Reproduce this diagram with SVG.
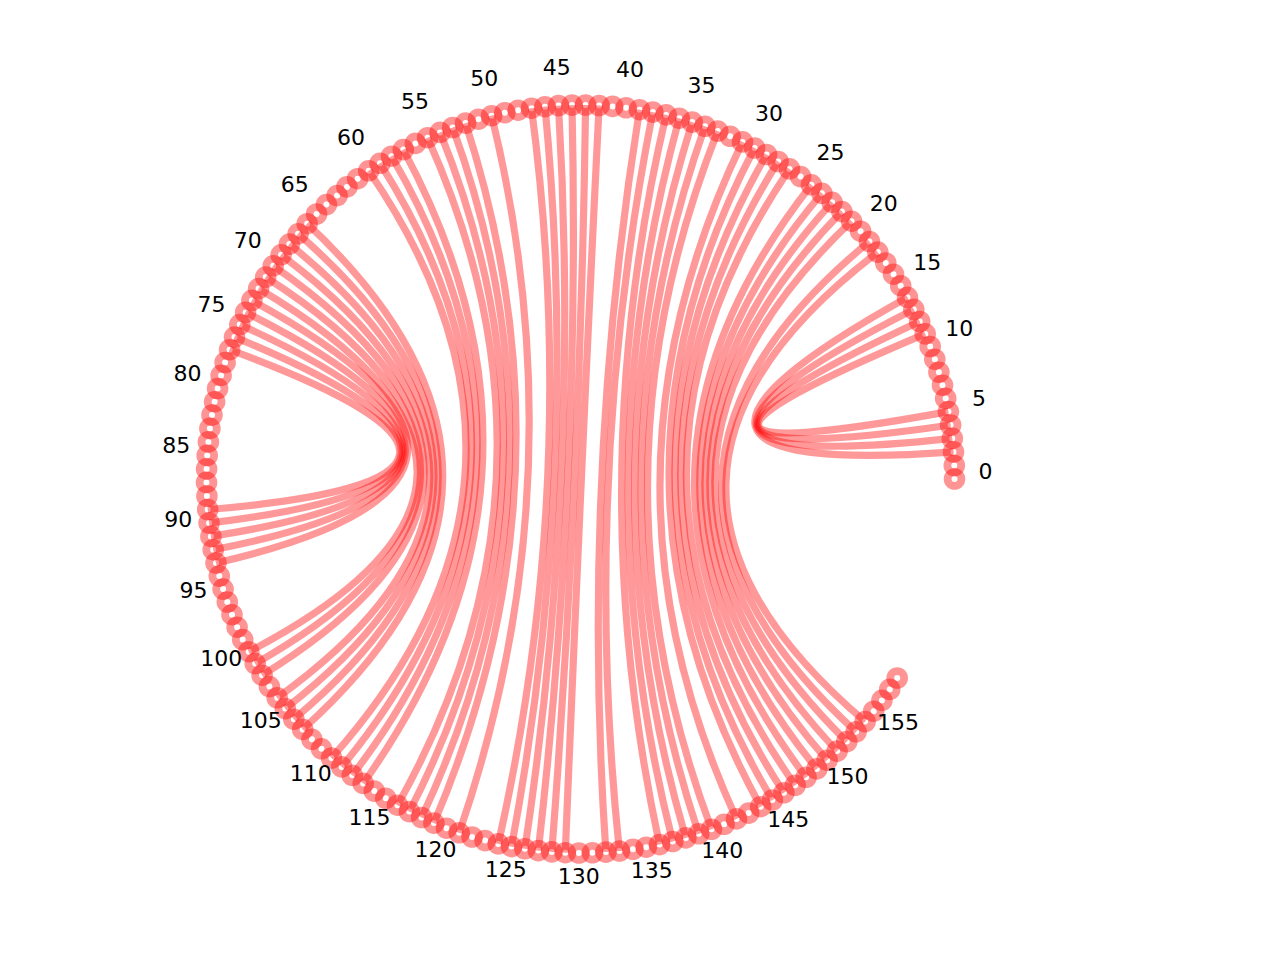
<svg xmlns="http://www.w3.org/2000/svg" width="1280" height="960" viewBox="0 0 1280 960">
<style>
.e{fill:none;stroke:#ff0000;stroke-opacity:0.4;stroke-width:7.2}
.n{fill:none;stroke:#ff0000;stroke-opacity:0.42;stroke-width:7.8}
.t{font-family:"DejaVu Sans",sans-serif;font-size:22px;text-anchor:middle;fill:#000}
</style>
<rect width="1280" height="960" fill="#fff"/>
<g id="connectors">
<path class="e" d="M953.5,451.9 Q580.5,479 907.5,297.4"/>
<path class="e" d="M952.3,438.4 Q580.5,479 913.8,309.4"/>
<path class="e" d="M950.6,425.0 Q580.5,479 919.7,321.5"/>
<path class="e" d="M948.4,411.6 Q580.5,479 925.2,333.9"/>
<path class="e" d="M639.5,109.7 Q580.5,479 605.9,852.1"/>
<path class="e" d="M652.8,112.1 Q580.5,479 619.4,851.0"/>
<path class="e" d="M666.1,114.9 Q580.5,479 659.5,844.6"/>
<path class="e" d="M679.2,118.2 Q580.5,479 672.7,841.5"/>
<path class="e" d="M692.2,122.1 Q580.5,479 685.8,837.9"/>
<path class="e" d="M705.0,126.3 Q580.5,479 698.7,833.8"/>
<path class="e" d="M717.7,131.1 Q580.5,479 711.5,829.3"/>
<path class="e" d="M742.5,141.9 Q580.5,479 736.5,818.9"/>
<path class="e" d="M754.6,148.0 Q580.5,479 760.7,806.7"/>
<path class="e" d="M766.5,154.5 Q580.5,479 772.4,800.0"/>
<path class="e" d="M778.1,161.5 Q580.5,479 783.9,792.8"/>
<path class="e" d="M789.5,168.9 Q580.5,479 795.2,785.3"/>
<path class="e" d="M811.4,184.8 Q580.5,479 806.1,777.3"/>
<path class="e" d="M821.9,193.3 Q580.5,479 816.8,768.9"/>
<path class="e" d="M832.1,202.3 Q580.5,479 827.1,760.2"/>
<path class="e" d="M841.9,211.6 Q580.5,479 837.1,751.1"/>
<path class="e" d="M851.5,221.2 Q580.5,479 846.8,741.6"/>
<path class="e" d="M869.4,241.5 Q580.5,479 856.1,731.8"/>
<path class="e" d="M877.8,252.1 Q580.5,479 865.1,721.6"/>
<path class="e" d="M599.1,105.5 Q580.5,479 565.3,852.7"/>
<path class="e" d="M585.6,105.0 Q580.5,479 551.8,851.9"/>
<path class="e" d="M572.0,105.1 Q580.5,479 538.3,850.6"/>
<path class="e" d="M558.5,105.6 Q580.5,479 524.9,848.8"/>
<path class="e" d="M545.0,106.7 Q580.5,479 511.5,846.6"/>
<path class="e" d="M531.5,108.2 Q580.5,479 498.3,843.9"/>
<path class="e" d="M491.6,115.7 Q580.5,479 459.2,832.8"/>
<path class="e" d="M465.6,123.1 Q580.5,479 433.9,823.1"/>
<path class="e" d="M452.7,127.5 Q580.5,479 421.6,817.5"/>
<path class="e" d="M440.1,132.4 Q580.5,479 409.4,811.6"/>
<path class="e" d="M427.6,137.7 Q580.5,479 397.5,805.2"/>
<path class="e" d="M403.3,149.6 Q580.5,479 363.2,783.4"/>
<path class="e" d="M391.5,156.2 Q580.5,479 352.3,775.3"/>
<path class="e" d="M380.0,163.3 Q580.5,479 341.7,766.9"/>
<path class="e" d="M368.7,170.8 Q580.5,479 331.5,758.0"/>
<path class="e" d="M307.2,223.7 Q580.5,479 302.7,729.4"/>
<path class="e" d="M298.1,233.8 Q580.5,479 293.8,719.2"/>
<path class="e" d="M289.4,244.1 Q580.5,479 285.3,708.6"/>
<path class="e" d="M281.1,254.8 Q580.5,479 277.2,697.8"/>
<path class="e" d="M273.2,265.8 Q580.5,479 262.1,675.2"/>
<path class="e" d="M265.7,277.1 Q580.5,479 255.2,663.6"/>
<path class="e" d="M258.6,288.6 Q580.5,479 248.8,651.7"/>
<path class="e" d="M251.9,300.4 Q580.5,479 216.0,563.0"/>
<path class="e" d="M245.6,312.4 Q580.5,479 213.2,549.7"/>
<path class="e" d="M239.8,324.6 Q580.5,479 210.9,536.4"/>
<path class="e" d="M234.5,337.1 Q580.5,479 209.1,523.0"/>
<path class="e" d="M229.6,349.7 Q580.5,479 207.7,509.5"/>
</g>
<g id="nodes">
<g id="n0"><circle class="n" cx="954.5" cy="479.0" r="6.9"/><text class="t" x="985.5" y="479">0</text></g>
<g id="n1"><circle class="n" cx="954.3" cy="465.5" r="6.9"/></g>
<g id="n2"><circle class="n" cx="953.5" cy="451.9" r="6.9"/></g>
<g id="n3"><circle class="n" cx="952.3" cy="438.4" r="6.9"/></g>
<g id="n4"><circle class="n" cx="950.6" cy="425.0" r="6.9"/></g>
<g id="n5"><circle class="n" cx="948.4" cy="411.6" r="6.9"/><text class="t" x="978.9" y="406.1">5</text></g>
<g id="n6"><circle class="n" cx="945.7" cy="398.4" r="6.9"/></g>
<g id="n7"><circle class="n" cx="942.5" cy="385.2" r="6.9"/></g>
<g id="n8"><circle class="n" cx="938.9" cy="372.2" r="6.9"/></g>
<g id="n9"><circle class="n" cx="934.8" cy="359.2" r="6.9"/></g>
<g id="n10"><circle class="n" cx="930.2" cy="346.5" r="6.9"/><text class="t" x="959.2" y="335.5">10</text></g>
<g id="n11"><circle class="n" cx="925.2" cy="333.9" r="6.9"/></g>
<g id="n12"><circle class="n" cx="919.7" cy="321.5" r="6.9"/></g>
<g id="n13"><circle class="n" cx="913.8" cy="309.4" r="6.9"/></g>
<g id="n14"><circle class="n" cx="907.5" cy="297.4" r="6.9"/></g>
<g id="n15"><circle class="n" cx="900.7" cy="285.7" r="6.9"/><text class="t" x="927.2" y="269.6">15</text></g>
<g id="n16"><circle class="n" cx="893.5" cy="274.2" r="6.9"/></g>
<g id="n17"><circle class="n" cx="885.8" cy="263.0" r="6.9"/></g>
<g id="n18"><circle class="n" cx="877.8" cy="252.1" r="6.9"/></g>
<g id="n19"><circle class="n" cx="869.4" cy="241.5" r="6.9"/></g>
<g id="n20"><circle class="n" cx="860.6" cy="231.2" r="6.9"/><text class="t" x="883.8" y="210.6">20</text></g>
<g id="n21"><circle class="n" cx="851.5" cy="221.2" r="6.9"/></g>
<g id="n22"><circle class="n" cx="841.9" cy="211.6" r="6.9"/></g>
<g id="n23"><circle class="n" cx="832.1" cy="202.3" r="6.9"/></g>
<g id="n24"><circle class="n" cx="821.9" cy="193.3" r="6.9"/></g>
<g id="n25"><circle class="n" cx="811.4" cy="184.8" r="6.9"/><text class="t" x="830.5" y="160.4">25</text></g>
<g id="n26"><circle class="n" cx="800.6" cy="176.6" r="6.9"/></g>
<g id="n27"><circle class="n" cx="789.5" cy="168.9" r="6.9"/></g>
<g id="n28"><circle class="n" cx="778.1" cy="161.5" r="6.9"/></g>
<g id="n29"><circle class="n" cx="766.5" cy="154.5" r="6.9"/></g>
<g id="n30"><circle class="n" cx="754.6" cy="148.0" r="6.9"/><text class="t" x="769.1" y="120.6">30</text></g>
<g id="n31"><circle class="n" cx="742.5" cy="141.9" r="6.9"/></g>
<g id="n32"><circle class="n" cx="730.2" cy="136.3" r="6.9"/></g>
<g id="n33"><circle class="n" cx="717.7" cy="131.1" r="6.9"/></g>
<g id="n34"><circle class="n" cx="705.0" cy="126.3" r="6.9"/></g>
<g id="n35"><circle class="n" cx="692.2" cy="122.1" r="6.9"/><text class="t" x="701.4" y="92.5">35</text></g>
<g id="n36"><circle class="n" cx="679.2" cy="118.2" r="6.9"/></g>
<g id="n37"><circle class="n" cx="666.1" cy="114.9" r="6.9"/></g>
<g id="n38"><circle class="n" cx="652.8" cy="112.1" r="6.9"/></g>
<g id="n39"><circle class="n" cx="639.5" cy="109.7" r="6.9"/></g>
<g id="n40"><circle class="n" cx="626.1" cy="107.8" r="6.9"/><text class="t" x="629.9" y="77.0">40</text></g>
<g id="n41"><circle class="n" cx="612.6" cy="106.4" r="6.9"/></g>
<g id="n42"><circle class="n" cx="599.1" cy="105.5" r="6.9"/></g>
<g id="n43"><circle class="n" cx="585.6" cy="105.0" r="6.9"/></g>
<g id="n44"><circle class="n" cx="572.0" cy="105.1" r="6.9"/></g>
<g id="n45"><circle class="n" cx="558.5" cy="105.6" r="6.9"/><text class="t" x="556.7" y="74.7">45</text></g>
<g id="n46"><circle class="n" cx="545.0" cy="106.7" r="6.9"/></g>
<g id="n47"><circle class="n" cx="531.5" cy="108.2" r="6.9"/></g>
<g id="n48"><circle class="n" cx="518.1" cy="110.2" r="6.9"/></g>
<g id="n49"><circle class="n" cx="504.8" cy="112.7" r="6.9"/></g>
<g id="n50"><circle class="n" cx="491.6" cy="115.7" r="6.9"/><text class="t" x="484.2" y="85.6">50</text></g>
<g id="n51"><circle class="n" cx="478.5" cy="119.2" r="6.9"/></g>
<g id="n52"><circle class="n" cx="465.6" cy="123.1" r="6.9"/></g>
<g id="n53"><circle class="n" cx="452.7" cy="127.5" r="6.9"/></g>
<g id="n54"><circle class="n" cx="440.1" cy="132.4" r="6.9"/></g>
<g id="n55"><circle class="n" cx="427.6" cy="137.7" r="6.9"/><text class="t" x="415.0" y="109.4">55</text></g>
<g id="n56"><circle class="n" cx="415.4" cy="143.4" r="6.9"/></g>
<g id="n57"><circle class="n" cx="403.3" cy="149.6" r="6.9"/></g>
<g id="n58"><circle class="n" cx="391.5" cy="156.2" r="6.9"/></g>
<g id="n59"><circle class="n" cx="380.0" cy="163.3" r="6.9"/></g>
<g id="n60"><circle class="n" cx="368.7" cy="170.8" r="6.9"/><text class="t" x="351.1" y="145.2">60</text></g>
<g id="n61"><circle class="n" cx="357.6" cy="178.7" r="6.9"/></g>
<g id="n62"><circle class="n" cx="346.9" cy="186.9" r="6.9"/></g>
<g id="n63"><circle class="n" cx="337.1" cy="195.6" r="6.9"/></g>
<g id="n64"><circle class="n" cx="326.4" cy="204.6" r="6.9"/></g>
<g id="n65"><circle class="n" cx="316.6" cy="214.0" r="6.9"/><text class="t" x="294.7" y="192.0">65</text></g>
<g id="n66"><circle class="n" cx="307.2" cy="223.7" r="6.9"/></g>
<g id="n67"><circle class="n" cx="298.1" cy="233.8" r="6.9"/></g>
<g id="n68"><circle class="n" cx="289.4" cy="244.1" r="6.9"/></g>
<g id="n69"><circle class="n" cx="281.1" cy="254.8" r="6.9"/></g>
<g id="n70"><circle class="n" cx="273.2" cy="265.8" r="6.9"/><text class="t" x="247.7" y="248.2">70</text></g>
<g id="n71"><circle class="n" cx="265.7" cy="277.1" r="6.9"/></g>
<g id="n72"><circle class="n" cx="258.6" cy="288.6" r="6.9"/></g>
<g id="n73"><circle class="n" cx="251.9" cy="300.4" r="6.9"/></g>
<g id="n74"><circle class="n" cx="245.6" cy="312.4" r="6.9"/></g>
<g id="n75"><circle class="n" cx="239.8" cy="324.6" r="6.9"/><text class="t" x="211.6" y="311.9">75</text></g>
<g id="n76"><circle class="n" cx="234.5" cy="337.1" r="6.9"/></g>
<g id="n77"><circle class="n" cx="229.6" cy="349.7" r="6.9"/></g>
<g id="n78"><circle class="n" cx="225.1" cy="362.5" r="6.9"/></g>
<g id="n79"><circle class="n" cx="221.1" cy="375.4" r="6.9"/></g>
<g id="n80"><circle class="n" cx="217.6" cy="388.5" r="6.9"/><text class="t" x="187.5" y="381.0">80</text></g>
<g id="n81"><circle class="n" cx="214.6" cy="401.7" r="6.9"/></g>
<g id="n82"><circle class="n" cx="212.0" cy="415.0" r="6.9"/></g>
<g id="n83"><circle class="n" cx="209.9" cy="428.4" r="6.9"/></g>
<g id="n84"><circle class="n" cx="208.4" cy="441.9" r="6.9"/></g>
<g id="n85"><circle class="n" cx="207.2" cy="455.4" r="6.9"/><text class="t" x="176.3" y="453.4">85</text></g>
<g id="n86"><circle class="n" cx="206.6" cy="468.9" r="6.9"/></g>
<g id="n87"><circle class="n" cx="206.5" cy="482.4" r="6.9"/></g>
<g id="n88"><circle class="n" cx="206.9" cy="496.0" r="6.9"/></g>
<g id="n89"><circle class="n" cx="207.7" cy="509.5" r="6.9"/></g>
<g id="n90"><circle class="n" cx="209.1" cy="523.0" r="6.9"/><text class="t" x="178.3" y="526.6">90</text></g>
<g id="n91"><circle class="n" cx="210.9" cy="536.4" r="6.9"/></g>
<g id="n92"><circle class="n" cx="213.2" cy="549.7" r="6.9"/></g>
<g id="n93"><circle class="n" cx="216.0" cy="563.0" r="6.9"/></g>
<g id="n94"><circle class="n" cx="219.3" cy="576.1" r="6.9"/></g>
<g id="n95"><circle class="n" cx="223.1" cy="589.1" r="6.9"/><text class="t" x="193.5" y="598.3">95</text></g>
<g id="n96"><circle class="n" cx="227.3" cy="602.0" r="6.9"/></g>
<g id="n97"><circle class="n" cx="232.0" cy="614.7" r="6.9"/></g>
<g id="n98"><circle class="n" cx="237.1" cy="627.2" r="6.9"/></g>
<g id="n99"><circle class="n" cx="242.7" cy="639.6" r="6.9"/></g>
<g id="n100"><circle class="n" cx="248.8" cy="651.7" r="6.9"/><text class="t" x="221.3" y="666.0">100</text></g>
<g id="n101"><circle class="n" cx="255.2" cy="663.6" r="6.9"/></g>
<g id="n102"><circle class="n" cx="262.1" cy="675.2" r="6.9"/></g>
<g id="n103"><circle class="n" cx="269.4" cy="686.6" r="6.9"/></g>
<g id="n104"><circle class="n" cx="277.2" cy="697.8" r="6.9"/></g>
<g id="n105"><circle class="n" cx="285.3" cy="708.6" r="6.9"/><text class="t" x="260.8" y="727.6">105</text></g>
<g id="n106"><circle class="n" cx="293.8" cy="719.2" r="6.9"/></g>
<g id="n107"><circle class="n" cx="302.7" cy="729.4" r="6.9"/></g>
<g id="n108"><circle class="n" cx="311.9" cy="739.3" r="6.9"/></g>
<g id="n109"><circle class="n" cx="321.5" cy="748.8" r="6.9"/></g>
<g id="n110"><circle class="n" cx="331.5" cy="758.0" r="6.9"/><text class="t" x="310.8" y="781.2">110</text></g>
<g id="n111"><circle class="n" cx="341.7" cy="766.9" r="6.9"/></g>
<g id="n112"><circle class="n" cx="352.3" cy="775.3" r="6.9"/></g>
<g id="n113"><circle class="n" cx="363.2" cy="783.4" r="6.9"/></g>
<g id="n114"><circle class="n" cx="374.3" cy="791.1" r="6.9"/></g>
<g id="n115"><circle class="n" cx="385.8" cy="798.3" r="6.9"/><text class="t" x="369.6" y="824.8">115</text></g>
<g id="n116"><circle class="n" cx="397.5" cy="805.2" r="6.9"/></g>
<g id="n117"><circle class="n" cx="409.4" cy="811.6" r="6.9"/></g>
<g id="n118"><circle class="n" cx="421.6" cy="817.5" r="6.9"/></g>
<g id="n119"><circle class="n" cx="433.9" cy="823.1" r="6.9"/></g>
<g id="n120"><circle class="n" cx="446.5" cy="828.2" r="6.9"/><text class="t" x="435.4" y="857.1">120</text></g>
<g id="n121"><circle class="n" cx="459.2" cy="832.8" r="6.9"/></g>
<g id="n122"><circle class="n" cx="472.1" cy="837.0" r="6.9"/></g>
<g id="n123"><circle class="n" cx="485.1" cy="840.6" r="6.9"/></g>
<g id="n124"><circle class="n" cx="498.3" cy="843.9" r="6.9"/></g>
<g id="n125"><circle class="n" cx="511.5" cy="846.6" r="6.9"/><text class="t" x="505.8" y="877.1">125</text></g>
<g id="n126"><circle class="n" cx="524.9" cy="848.8" r="6.9"/></g>
<g id="n127"><circle class="n" cx="538.3" cy="850.6" r="6.9"/></g>
<g id="n128"><circle class="n" cx="551.8" cy="851.9" r="6.9"/></g>
<g id="n129"><circle class="n" cx="565.3" cy="852.7" r="6.9"/></g>
<g id="n130"><circle class="n" cx="578.9" cy="853.0" r="6.9"/><text class="t" x="578.7" y="884.0">130</text></g>
<g id="n131"><circle class="n" cx="592.4" cy="852.8" r="6.9"/></g>
<g id="n132"><circle class="n" cx="605.9" cy="852.1" r="6.9"/></g>
<g id="n133"><circle class="n" cx="619.4" cy="851.0" r="6.9"/></g>
<g id="n134"><circle class="n" cx="632.9" cy="849.3" r="6.9"/></g>
<g id="n135"><circle class="n" cx="646.2" cy="847.2" r="6.9"/><text class="t" x="651.7" y="877.7">135</text></g>
<g id="n136"><circle class="n" cx="659.5" cy="844.6" r="6.9"/></g>
<g id="n137"><circle class="n" cx="672.7" cy="841.5" r="6.9"/></g>
<g id="n138"><circle class="n" cx="685.8" cy="837.9" r="6.9"/></g>
<g id="n139"><circle class="n" cx="698.7" cy="833.8" r="6.9"/></g>
<g id="n140"><circle class="n" cx="711.5" cy="829.3" r="6.9"/><text class="t" x="722.3" y="858.4">140</text></g>
<g id="n141"><circle class="n" cx="724.1" cy="824.3" r="6.9"/></g>
<g id="n142"><circle class="n" cx="736.5" cy="818.9" r="6.9"/></g>
<g id="n143"><circle class="n" cx="748.7" cy="813.1" r="6.9"/></g>
<g id="n144"><circle class="n" cx="760.7" cy="806.7" r="6.9"/></g>
<g id="n145"><circle class="n" cx="772.4" cy="800.0" r="6.9"/><text class="t" x="788.3" y="826.6">145</text></g>
<g id="n146"><circle class="n" cx="783.9" cy="792.8" r="6.9"/></g>
<g id="n147"><circle class="n" cx="795.2" cy="785.3" r="6.9"/></g>
<g id="n148"><circle class="n" cx="806.1" cy="777.3" r="6.9"/></g>
<g id="n149"><circle class="n" cx="816.8" cy="768.9" r="6.9"/></g>
<g id="n150"><circle class="n" cx="827.1" cy="760.2" r="6.9"/><text class="t" x="847.5" y="783.5">150</text></g>
<g id="n151"><circle class="n" cx="837.1" cy="751.1" r="6.9"/></g>
<g id="n152"><circle class="n" cx="846.8" cy="741.6" r="6.9"/></g>
<g id="n153"><circle class="n" cx="856.1" cy="731.8" r="6.9"/></g>
<g id="n154"><circle class="n" cx="865.1" cy="721.6" r="6.9"/></g>
<g id="n155"><circle class="n" cx="873.7" cy="711.2" r="6.9"/><text class="t" x="898.0" y="730.4">155</text></g>
<g id="n156"><circle class="n" cx="881.9" cy="700.4" r="6.9"/></g>
<g id="n157"><circle class="n" cx="889.7" cy="689.4" r="6.9"/></g>
<g id="n158"><circle class="n" cx="897.2" cy="678.0" r="6.9"/></g>
</g>
</svg>
